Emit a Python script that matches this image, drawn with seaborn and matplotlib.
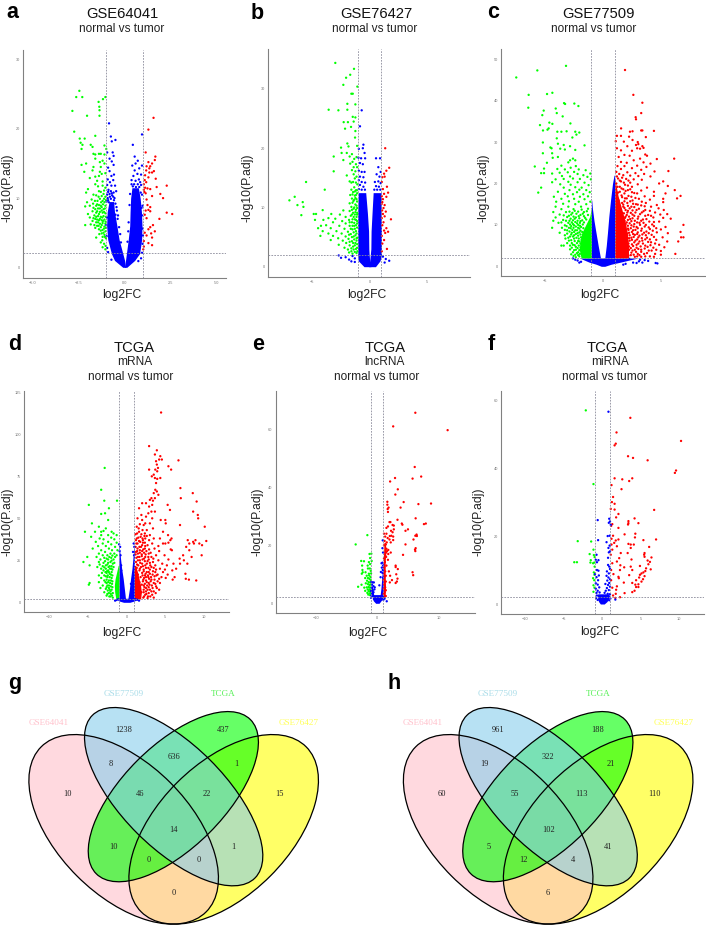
import matplotlib
matplotlib.use("Agg")
import matplotlib.pyplot as plt
from matplotlib.patches import Ellipse
import numpy as np
import pandas as pd
import seaborn as sns

W, H = 706, 926

# ---------------------------------------------------------------------
# Volcano data: (log2FC, -log10(P.adj))
# ---------------------------------------------------------------------
a_green = [(-2.47,25.5),(-2.64,24.6),(-2.31,24.6),(-1.05,24.6),(-1.18,24.3),(-1.42,23.9),(-1.38,23.2),(-2.85,22.6),(-1.37,22.7),(-1.37,21.9),(-2.05,21.9),(-2.75,19.6),(-1.6,19),(-2.45,18.6),(-2.18,18.6),(-2.4,18),(-2.3,17.7),(-1.85,17.7),(-1.75,17.4),(-2.35,17.1),(-1.1,17.6),(-1.0,17.1),(-1.7,16.4),(-1.6,16.3),(-1.4,16.4),(-1.3,16.4),(-1.1,16.3),(-1.6,15.7),(-1.2,15.4),(-1.35,15.2),(-1.1,15),(-2.1,15),(-2.35,14.8),(-1.7,14.5),(-1.3,14.5),(-1.75,14),(-2.2,13.8),(-1.35,13.8),(-1.25,13.5),(-1.4,13.2),(-1.05,13.6),(-1.6,13.1),(-1.9,12.9),(-1.5,12.5),(-1.2,12.4),(-1.6,12),(-1.45,11.7),(-2,11.3),(-1.2,11.8),(-1.05,11.5),(-1.4,11),(-1.3,10.9),(-2.1,10.8),(-1.7,10.5),(-1.55,10.4),(-1.15,10.6),(-1.05,10.2),(-1.8,9.8),(-1.35,9.9),(-1.2,9.6),(-1.1,9.4),(-2.05,9.4),(-1.5,9.1),(-1.4,9.0),(-1.3,8.9),(-1.25,8.7),(-2.15,8.8),(-1.9,8.9),(-1.7,8.6),(-1.6,8.4),(-1.45,8.5),(-1.15,8.4),(-1.05,8.9),(-1.75,8.1),(-1.55,7.9),(-1.35,8.0),(-1.2,7.9),(-1.05,7.8),(-2.0,7.7),(-1.65,7.5),(-1.45,7.4),(-1.3,7.3),(-1.15,7.4),(-1.9,7.2),(-1.6,7),(-1.5,6.9),(-1.4,6.8),(-1.25,6.8),(-1.1,6.9),(-1.75,6.7),(-1.55,6.5),(-1.35,6.3),(-1.2,6.4),(-1.05,6.3),(-2.15,6.1),(-1.85,6.2),(-1.5,6),(-1.3,5.8),(-1.1,5.9),(-1.4,5.5),(-1.2,5.4),(-1.05,5.2),(-1.25,4.9),(-1.1,4.7),(-1.55,4.3),(-1.2,4.4),(-1.02,4.2),(-1.3,3.6),(-1.12,3.4),(-1.04,3.1),(-1.2,2.9),(-1.05,2.6)]
a_green_more = [(-1.12,11.1),(-1.25,10.3),(-1.42,10.2),(-1.62,9.6),(-1.12,9.9),(-1.28,9.4),(-1.02,9.7),(-1.48,9.6),(-1.72,9.2),(-1.18,9.1),(-1.55,8.9),(-1.35,8.5),(-1.08,8.5),(-1.25,8.2),(-1.5,8.1),(-1.12,8),(-1.4,7.7),(-1.02,7.3),(-1.22,7.2),(-1.55,7.3),(-1.35,7),(-1.7,7.1),(-1.18,6.7),(-1.45,6.5),(-1.04,6.6),(-1.25,6.1),(-1.65,6.1),(-1.42,6),(-1.12,5.6),(-1.6,5.7),(-1.3,5.3),(-1.02,5.7),(-1.15,5),(-1.38,4.8),(-1.08,4.4),(-1.22,3.9)]
a_red = [(1.58,21.6),(1.3,19.9),(1.15,16.6),(1.68,16),(1.65,15.5),(1.3,15.2),(1.5,15),(1.4,14.6),(1.2,14.6),(1.35,14.3),(1.18,14),(1.6,13.9),(1.35,13.7),(1.5,13.7),(1.12,13.3),(1.3,13),(1.7,12.8),(1.1,12.6),(1.18,12.3),(1.05,12),(2.3,11.8),(1.75,11.6),(1.12,11.5),(1.25,11.4),(1.05,11.2),(1.4,11.3),(1.08,10.9),(1.15,10.7),(1.95,10.6),(1.5,10.3),(2.1,10),(1.2,9.8),(1.25,9),(1.4,8.7),(1.3,8.3),(1.15,8.2),(1.4,8.1),(2.3,7.9),(2.6,7.7),(1.1,7.6),(1.2,7.1),(1.9,7),(1.55,6.1),(1.4,5.8),(1.3,5.5),(1.65,5.2),(1.1,5),(1.45,4.9),(1.2,4.6),(1.5,4.3),(1.05,3.8),(1.3,3.5),(1.5,3.2),(1.05,3),(1.02,2.6)]
a_blue = [(-0.85,20.8),(-0.75,18.9),(-0.7,18.2),(-0.5,18.4),(0.95,19.2),(0.45,17.7),(-0.95,16.6),(-0.65,16.6),(-0.6,16.1),(-0.82,15.7),(0.55,16),(0.72,15.4),(-0.7,15.3),(-0.6,14.8),(-0.9,14.4),(0.6,15),(0.42,14.7),(0.95,14.7),(0.8,14.3),(0.55,14),(-0.82,13.9),(-0.72,13.2),(-0.58,13.4),(0.7,13.5),(0.9,13.4),(0.48,13.2),(-0.92,12.7),(-0.8,12.3),(-0.62,12.6),(0.6,12.5),(0.78,12.7),(-0.95,11.9),(-0.72,11.8),(-0.52,11.8),(0.38,12),(0.9,11.9),(-0.88,11.2),(-0.75,11),(-0.6,10.8),(-0.46,11),(-0.95,10.5),(-0.8,10.2),(-0.68,10.4),(-0.55,10),(0.95,10.5),(-0.98,9.5),(-0.86,9.4),(0.98,8.9),(-0.42,8.2),(-0.38,7),(0.22,6.5),(0.95,7.5),(-0.96,7.2),(0.98,5.6),(-0.98,4.5),(0.98,3.4),(-0.95,2.8),(0.95,2.1),(-0.9,2.2),(0.9,1.3),(-0.72,1.1),(0.75,0.9)]
a_blue_more = [(-0.9,10.9),(-0.7,10.7),(-0.82,10.6),(-0.62,10.2),(-0.92,10),(-0.75,9.9),(-0.58,9.7),(-0.5,9.2),(-0.9,9.7),(-0.44,8.7),(-0.5,7.6),(-0.36,7.5),(-0.3,5.8),(-0.24,4.8),(-0.2,3.6),(0.38,12.6),(0.52,12),(0.72,12),(0.85,12.3),(0.45,11.7),(0.8,11.6),(0.62,11.6),(0.3,10.6),(0.27,9),(0.88,10.8),(0.2,5.2),(0.16,3.7),(1,4.6),(0.93,8.6),(-1,6.1)]

b_green = [(-3,34.4),(-1.37,33.4),(-1.7,32.4),(-2.06,31.9),(-2.3,30.7),(-1.08,30.4),(-1.6,29.2),(-1.48,29.2),(-1.95,27.5),(-1.25,27.4),(-3.58,26.5),(-2.73,26.4),(-1.95,26.5),(-1.48,25.3),(-1.25,25.2),(-2.27,24.4),(-1.9,24.4),(-1.4,24.5),(-1.63,23.6),(-2.15,23.3),(-1.25,22.9),(-1.28,21.8),(-1.95,20.8),(-2.5,20.1),(-1.85,20.3),(-1.1,20.4),(-3.14,18.6),(-2.45,19.2),(-2,19.2),(-1.55,19),(-1.75,18.6),(-1.35,18.2),(-2.3,18),(-1.15,18.5),(-1.5,17.7),(-1.7,17.4),(-1.2,17.3),(-1.4,16.8),(-1.1,16.8),(-3.14,16.1),(-1.55,16.3),(-1.25,16.1),(-1.4,15.6),(-2,15.4),(-1.15,15.2),(-1.3,14.9),(-5.55,14.3),(-1.75,14.4),(-1.45,14.3),(-1.6,14.2),(-1.2,14.2),(-1.08,13.9),(-1.35,13.4),(-3.92,13),(-1.6,13),(-1.2,12.9),(-1.45,12.6),(-1.1,12.4),(-1.7,12.1),(-1.3,12),(-7,11.2),(-6.54,11.8),(-1.55,11.5),(-1.15,11.4),(-1.42,11.1),(-5.84,10.9),(-6.3,10.4),(-1.75,10.7),(-1.25,10.5),(-5.78,10.1),(-1.6,10.1),(-1.1,9.9),(-1.4,9.8),(-4.1,9.55),(-2.3,9.5),(-1.75,9.4),(-1.25,9.2),(-4.88,8.9),(-4.68,8.9),(-3.35,8.9),(-2.6,8.8),(-1.55,8.8),(-1.1,8.8),(-5.96,8.7),(-2.1,8.4),(-1.4,8.4),(-3.6,8.2),(-3,8.1),(-4.77,7.9),(-4.04,7.9),(-1.8,7.9),(-1.2,7.9),(-2.4,7.7),(-3.2,7.5),(-1.55,7.5),(-2.1,7.3),(-1.1,7.3),(-3.8,7),(-4.25,6.9),(-2.65,6.9),(-1.75,6.9),(-1.35,6.9),(-4.5,6.5),(-3.4,6.5),(-2.2,6.4),(-1.5,6.3),(-4.1,6),(-2.9,6),(-1.9,5.9),(-1.2,6),(-3.6,5.6),(-2.45,5.6),(-1.65,5.5),(-4.3,5.2),(-3.2,5.2),(-2.1,5.1),(-1.4,5.1),(-2.75,4.8),(-1.85,4.7),(-1.15,4.8),(-3.4,4.5),(-2.35,4.4),(-1.55,4.3),(-2.05,4),(-1.25,4),(-2.7,3.7),(-1.75,3.6),(-1.45,3.4),(-2.2,3.2),(-1.1,3.2),(-1.9,2.9),(-1.6,2.6),(-1.3,2.5),(-1.15,2.3)]
b_green_more = [(-1.12,12.9),(-1.3,12.7),(-1.2,12.1),(-1.5,12.2),(-1.25,11.6),(-1.1,11),(-1.35,11.3),(-1.5,10.8),(-1.15,10.3),(-1.35,10),(-1.55,9.6),(-1.2,9.6),(-1.1,9.1),(-1.45,9.1),(-1.3,8.8),(-1.65,8.6),(-1.15,8.4),(-1.3,8),(-1.5,8),(-1.1,7.7),(-1.75,7.5),(-1.35,7.4),(-1.2,7),(-1.5,6.9),(-1.1,6.6),(-1.3,6.4),(-1.65,6.4),(-1.15,5.6),(-1.4,5.8),(-1.8,5.4),(-1.25,5.3),(-1.55,5),(-1.1,4.9),(-1.35,4.6),(-1.75,4.2),(-1.15,4.4),(-1.45,4),(-1.1,3.8),(-1.3,3.6),(-1.6,3.1),(-1.2,3),(-1.4,2.9),(-1.08,2.6),(-1.8,2.4),(-1.5,2.2)]
b_red = [(1.35,20),(1.7,16.7),(1.45,16.2),(1.25,15.7),(1.3,15.2),(1.1,15.1),(1.05,14.3),(1.5,13.5),(1.15,13.1),(1.6,12.5),(1.25,12.3),(1.05,11.9),(1.45,11.8),(1.15,11.4),(1.1,10.9),(1.04,10.6),(1.3,10.4),(1.2,9.9),(1.08,9.5),(1.4,9.3),(1.15,8.9),(1.3,8.5),(1.05,8.2),(1.85,8),(1.2,7.5),(1.1,7),(1.45,6.5),(1.25,6.1),(1.6,5.9),(1.35,5.7),(1.05,5.2),(1.25,4.5),(1.1,3.9),(1.5,3),(1.05,2.6)]
b_blue = [(-0.7,26.4),(-0.85,23.7),(-0.55,20.6),(-0.6,20),(-0.95,19.9),(-0.45,19.2),(-0.98,18.4),(-0.75,18.3),(-0.4,18.3),(0.55,18.3),(0.9,18.3),(-0.85,17.5),(-0.6,17.3),(0.75,16.8),(-0.95,16.2),(-0.7,16),(-0.45,16),(0.95,16),(0.6,15.6),(-0.85,15.2),(-0.55,15.1),(0.85,15.2),(-0.95,14.6),(-0.7,14.3),(-0.4,14.2),(0.45,14.3),(0.75,14.4),(0.95,14.1),(-0.85,13.8),(-0.55,13.5),(0.55,13.6),(0.8,13.5),(-0.95,13.1),(-0.7,13),(-0.42,13),(0.4,13),(0.65,13),(0.92,13),(-1.5,1.8),(-2.1,1.6),(-2.5,1.5),(-1.8,1.2),(-1.3,1.4),(-2.7,1.9),(1.4,1.3),(1.15,1.7),(1.7,1),(1.3,0.7),(-1.3,0.8),(-1.6,0.9)]

c_green = [(-7.5,45.6),(-5.68,47.3),(-3.2,48.4),(-6.43,41.4),(-4.84,41.6),(-4.38,41.9),(-6.46,38.3),(-5.13,37.6),(-5.25,36.5),(-3.37,39.4),(-3.28,39.2),(-2.48,39.3),(-2.13,38.7),(-4.09,38.1),(-4,37),(-3.49,36.2),(-4.64,34.7),(-4.38,34.4),(-2.82,34.5),(-5.45,34.1),(-5.19,32.8),(-4.7,33.3),(-4.8,33),(-3.95,32.5),(-3.6,32.5),(-3.15,32.6),(-2.4,32.5),(-2.05,32.3),(-2.3,31.8),(-4,30.9),(-2.65,31.1),(-5.2,29.9),(-3.9,29.6),(-3.4,29.3),(-2.85,29),(-1.6,29.2),(-4.55,28.7),(-4.45,28.5),(-3.7,28.4),(-3.3,28.2),(-2.4,28.1),(-5.2,27.3),(-4.4,27.3),(-4.35,26.2),(-3.9,26.4),(-2.6,26),(-2.4,25.6),(-4.85,25),(-2.85,25.6),(-3,25.1),(-5.9,24.1),(-3.6,24.3),(-2.35,24.2),(-5.1,23.6),(-3.95,23.5),(-3.3,23.4),(-2.8,23.8),(-2.1,23.4),(-1.5,23.2),(-5.35,22.5),(-5.1,22.5),(-4.4,22.4),(-3.75,22.6),(-3.05,22.7),(-2.5,22.8),(-2.2,22.3),(-1.1,22.4),(-1.7,22),(-3.55,21.8),(-2.85,21.7),(-1.35,21.6),(-4.1,21),(-3.4,21.1),(-2.6,21.2),(-2,21.1),(-1.05,21),(-4.4,20.3),(-3,20.4),(-2.2,20.3),(-1.6,20.2),(-3.7,19.8),(-2.8,19.7),(-1.25,19.6),(-5.35,19),(-3.4,19),(-2.4,19.1),(-1.85,19),(-2.05,18.5),(-2.9,18.4),(-1.45,18.4),(-5.6,17.8),(-3.9,18),(-2.25,17.9),(-1.15,17.9),(-3.3,17.5),(-2.6,17.4),(-1.7,17.4),(-4.25,16.8),(-3.05,16.9),(-2,16.8),(-1.3,16.9),(-3.6,16.3),(-2.5,16.3),(-1.6,16.2),(-4.05,15.6),(-2.95,15.7),(-2.1,15.6),(-1.1,15.6),(-3.45,15.1),(-2.4,15),(-1.45,15),(-4.1,14.4),(-3,14.4),(-1.9,14.4),(-3.6,13.8),(-2.55,13.8),(-1.3,13.9),(-4.3,13.1),(-3.2,13.1),(-2.15,13.2),(-1.65,13.1),(-3.75,12.5),(-2.75,12.5),(-1.95,12.4),(-4.1,11.8),(-3.1,11.9),(-2.35,11.8),(-1.55,11.7),(-4.3,11),(-3.45,11.2),(-2.6,11.1),(-1.8,11.1),(-3.85,10.5),(-3,10.5),(-2.25,10.4),(-3.3,9.9),(-2.5,9.9),(-2,9.8),(-4.4,9.3),(-3.55,9.3),(-2.8,9.2),(-2.15,9.3),(-3.1,8.7),(-2.4,8.7),(-3.75,8.1),(-2.7,8.1),(-2.2,8),(-3.3,7.5),(-2.5,7.5),(-3,6.9),(-2.3,6.9),(-2.75,6.3),(-2.15,6.1),(-3.6,5),(-3.4,5),(-2.6,5.2),(-2.35,4.7),(-2.5,3.9),(-2.25,3.2),(-2.55,2.5),(-2.35,2.2),(-2.15,2.7)]
c_green_more = [(-2.9,13.2),(-2.45,13.4),(-1.85,13.7),(-1.4,13.3),(-2.65,12.9),(-2.3,12.7),(-1.75,12.7),(-1.3,12.4),(-3.4,12.3),(-2.95,12.2),(-2.55,12),(-2.1,12.1),(-1.65,12.1),(-2.8,11.5),(-2.45,11.5),(-2.05,11.6),(-1.45,11.3),(-3.2,11),(-2.9,11),(-2.2,11),(-1.95,10.9),(-3.6,10.6),(-2.7,10.6),(-2.4,10.7),(-2,10.5),(-1.65,10.6),(-2.85,10.1),(-2.6,10.2),(-2.15,10),(-1.75,10.1),(-3.15,9.7),(-2.75,9.7),(-2.35,9.6),(-1.9,9.5),(-2.95,9.3),(-2.55,9.3),(-2.05,9.1),(-1.7,9.2),(-3.3,8.8),(-2.65,8.8),(-2.25,8.7),(-1.95,8.6),(-2.9,8.4),(-2.5,8.3),(-2.05,8.2),(-1.8,8.3),(-3.1,7.9),(-2.75,7.7),(-2.35,7.8),(-1.95,7.7),(-2.6,7.2),(-2.15,7.4),(-2.85,7.2),(-1.9,7),(-3.25,6.7),(-2.5,6.7),(-2.1,6.7),(-1.85,6.4),(-2.95,6.2),(-2.45,6.1),(-2.05,6),(-3.1,5.6),(-2.7,5.6),(-2.25,5.6),(-1.95,5.5),(-2.85,5),(-2.45,5.1),(-2.1,5),(-2.7,4.5),(-2.2,4.4),(-1.95,4.5),(-2.85,4.1),(-2.35,4),(-2.05,3.9),(-2.6,3.4),(-2.15,3.4),(-2.75,2.9),(-2,3),(-2.4,2.8),(-2.05,2.4)]
c_red = [(1.9,47.4),(2.62,41.4),(3.4,39.5),(3.3,37),(2.82,36),(2.85,35.5),(1.56,33.3),(3.3,32.8),(3.4,32.8),(4.4,32.7),(2.33,32.5),(2.55,32.6),(1.2,31.5),(1.55,31.5),(2.25,31.3),(3.7,31.2),(2.55,30.5),(1.1,30.2),(1.8,30.1),(3,30),(2.85,29.3),(3.05,29.5),(2.1,29),(3.4,29),(3.5,28.6),(1.2,28.5),(2.95,28.5),(3.2,28.4),(1.55,28),(2.5,27.9),(3.65,27),(1.85,26.9),(2.3,26.7),(3.8,26.7),(1.35,26.4),(4.65,25.9),(6.15,26),(3.2,26),(2.65,25.6),(1.55,25.2),(3.5,25.1),(2.05,25),(4.1,24.8),(1.25,24.2),(1.85,24.2),(2.95,24.3),(3.75,24),(2.5,23.7),(1.55,23.5),(3.3,23.3),(5.65,23),(4.45,22.9),(2.1,22.7),(1.15,22.8),(2.8,22.5),(3.55,22.3),(1.75,22),(2.35,21.9),(3.05,21.8),(4.1,21.7),(1.3,21.2),(2,21.1),(2.65,21),(3.35,20.9),(5.2,20.5),(1.55,20.5),(2.35,20.2),(4.85,20),(1.15,20),(1.9,19.7),(3,19.8),(5.6,19.4),(1.45,19.2),(2.5,19.2),(3.8,19),(1.75,18.6),(2.15,18.4),(3.3,18.3),(6.2,18.4),(4.4,18),(1.3,17.8),(2.7,17.7),(5.4,17.6),(6.7,17),(4.4,17),(1.6,17.1),(2.2,17),(3.6,16.9),(6.4,16.4),(5.2,16.3),(1.9,16.4),(3.1,16.3),(4.05,16.1),(2.55,15.9),(1.35,15.9),(5.2,15.5),(2.1,15.3),(3.7,15.3),(2.85,15),(1.75,14.9),(4.65,14.8),(3.3,14.7),(2.45,14.4),(4.15,14.4),(4.8,14),(1.85,14.1),(5.25,13.6),(3.65,13.6),(2.9,13.6),(3.35,13),(2.1,13),(4.5,13),(4.95,12.5),(5.55,12.6),(2.55,12.5),(3.9,12.4),(3.05,12),(1.95,12),(4.35,11.8),(5.2,11.7),(5.85,11.5),(2.35,11.4),(3.45,11.3),(2.75,11),(4,10.8),(4.85,10.8),(2.05,10.6),(3.15,10.5),(6.95,10),(3.7,10),(2.45,9.9),(4.4,9.7),(5.4,9.5),(2.9,9.5),(3.35,9.1),(2.15,9.1),(4.05,9),(5,8.9),(2.6,8.7),(6.7,8.3),(3.75,8.4),(3,8.2),(4.65,8.2),(2.25,8.1),(5.6,8),(3.4,7.7),(2.75,7.6),(4.2,7.6),(6.95,7),(6.75,7),(5.15,7),(2,7.3),(3.05,7),(2.45,6.9),(3.8,6.9),(6.5,6),(4.6,6.4),(2.8,6.2),(3.4,6.2),(5.55,6),(2.1,6),(4.15,5.8),(3.05,5.5),(2.5,5.3),(4.85,5.2),(3.65,5),(5.3,4.6),(2.25,4.8),(2.9,4.5),(4.35,4.5),(3.3,4),(2.55,3.8),(3.95,3.8),(5,3.7),(2.1,3.5),(3,3),(6.25,3),(3.55,3),(4.5,3),(2.4,2.7),(4.05,2.4),(2.75,2.3),(3.3,2.3),(5,2.8)]
c_red_more = [(1.4,22.3),(1.2,21.7),(1.65,21.4),(1.45,20.7),(2.2,20.7),(1.8,20.2),(1.25,19.2),(2.15,19.5),(1.6,18.8),(2.35,18.6),(1.95,18.2),(1.45,18),(2.5,17.9),(1.85,17.6),(2.95,17.6),(1.65,16.7),(2.45,16.8),(2.05,16.4),(2.8,16.5),(1.85,15.7),(2.35,15.7),(3.35,15.6),(1.65,15.3),(2.6,15.1),(3,14.9),(2.15,14.6),(1.75,14.4),(3.6,14.5),(2.7,14.3),(2.3,14),(3.1,13.9),(1.95,13.6),(2.55,13.5),(3.5,13.3),(2.15,13.4),(4.05,13.4),(2.8,13),(2.4,12.9),(1.8,12.8),(3.2,12.6),(2.05,12.4),(2.7,12.2),(3.65,12.2),(2.25,12),(4.15,12.2),(1.9,11.7),(3,11.5),(2.55,11.6),(3.75,11.4),(2.15,11.2),(3.3,11),(1.85,11),(2.45,10.9),(2.95,10.6),(4.4,10.7),(3.5,10.5),(2.3,10.4),(1.95,10.2),(2.7,10.2),(3.2,10),(4.25,10.1),(2.15,9.8),(2.65,9.6),(3.6,9.6),(1.9,9.4),(3,9.2),(2.4,9.2),(4.6,9.2),(3.95,9.4),(2.2,8.8),(2.8,8.8),(3.3,8.6),(1.95,8.5),(4.3,8.6),(2.5,8.3),(3.55,8.1),(2.1,7.9),(2.95,7.8),(2.6,7.8),(3.95,8),(2.3,7.5),(3.7,7.5),(3.15,7.4),(1.95,7.1),(2.65,7.1),(4.4,7.1),(2.25,6.8),(3.35,6.8),(2.95,6.5),(3.65,6.5),(2.5,6.4),(4.05,6.5),(2.3,6.2),(3.15,6),(2.7,5.8),(3.9,5.9),(4.5,5.5),(2.2,5.5),(3.45,5.5),(2.9,5.2),(4.1,5.1),(2.6,4.9),(3.25,4.8),(3.85,4.7),(2.4,4.4),(3.05,4.2),(4.6,4),(3.6,4.3),(2.75,4),(2.25,4),(4.2,3.8),(3.3,3.5),(2.85,3.5),(2.45,3.3),(3.8,3.2),(3.15,2.7),(2.65,2.8),(3.65,2.4),(2.2,2.6),(4.4,2.3),(2.95,2.4)]
c_blue = [(4.55,0.8),(4.7,0.7),(3.6,1.5),(3.9,1.3),(3.2,1.6),(3.4,0.9),(2.9,0.8),(2.6,0.9),(3.1,1.2),(-2.4,1.6),(-2.6,1.9),(-2.2,1.4),(-1.9,1.1),(-2.05,0.9),(2.3,1.8),(1.95,0.6),(1.75,0.4)]

d_green = [(-2.85,80),(-3.3,67),(-2.9,60.5),(-1.25,60.5),(-4.9,58),(-2.3,56),(-2.8,53),(-3.3,52.6),(-2.4,49),(-4.5,47),(-3.6,45),(-2.7,44),(-5.4,42),(-1.95,42),(-4.1,42),(-3.3,42),(-3,42.5),(-1.7,41),(-3.3,40),(-2.4,40),(-1.3,40),(-4.6,39),(-2,38.5),(-3.5,38),(-3,37.5),(-1.6,37.5),(-4,36),(-2.4,36),(-1.3,35.5),(-3.1,35),(-2,34.5),(-3.7,33.5),(-2.7,33.5),(-1.5,33),(-4.4,32),(-2.3,32),(-3.3,31),(-1.9,31),(-1.2,31),(-2.8,30),(-3.6,29),(-2.1,29),(-1.6,29),(-3.1,28),(-2.5,28),(-1.3,28),(-3.9,27),(-2.9,26.5),(-2,26.5),(-3.4,25.5),(-2.4,25.5),(-1.7,25.5),(-2.8,24.5),(-2.1,24),(-5.1,27),(-3,23.5),(-1.6,23.5),(-4.8,22),(-3.5,22.5),(-2.5,22.5),(-3.1,21.5),(-2.2,21.5),(-3.8,21),(-3.3,20),(-2.7,20),(-2,20),(-5.6,24),(-3.6,24),(-3,19),(-2.4,19),(-3.2,17.5),(-2.6,17.5),(-2.2,17),(-3.6,16),(-2.9,16),(-3.3,14.5),(-2.5,15),(-2.9,13),(-2.3,13),(-3.6,12),(-2.6,11.5),(-4.8,11.5),(-4.9,10.5),(-3.1,10),(-2.3,10),(-3.4,8.5),(-2.7,8),(-2.2,7.5),(-2.9,6),(-2.3,5.5),(-2.6,4),(-2.1,3.5)]
d_green_more = [(-1.85,27.8),(-2.25,27),(-1.5,27),(-2.6,26),(-1.95,24.8),(-2.4,23.5),(-1.8,23),(-2.7,22),(-1.95,21.5),(-2.35,21),(-1.7,21),(-2.9,20.8),(-2.15,20),(-1.85,19.5),(-2.55,18.5),(-1.95,18),(-2.3,18),(-2.75,18),(-2.05,16.5),(-1.85,16),(-2.45,16),(-2.7,15.5),(-2.2,15),(-1.95,14.5),(-2.6,13.5),(-2.05,13),(-1.85,12.5),(-2.4,12),(-2.75,12),(-2.15,11.5),(-1.9,11),(-2.5,10),(-2.05,9.5),(-1.85,9),(-2.6,9),(-2.3,8.5),(-1.95,7.5),(-2.45,7),(-2.1,6.5),(-1.8,5.5),(-2.05,5),(-2.5,5),(-1.9,4),(-2.25,3.5),(-1.8,2.8)]
d_red = [(4.45,113),(2.9,93),(3.9,90.5),(3.65,88),(4.35,87),(4.2,85),(4.55,85),(6.7,84.5),(3.8,84),(5.4,81),(5.75,79),(3.9,82),(4.05,80),(2.9,79),(3.7,79),(3.95,78),(3.5,76),(4.35,74),(3.65,74),(3.25,75),(3.95,73.5),(3.8,71),(6.95,68),(3.7,67),(3.9,66),(3.5,65),(4.1,64),(8.55,65),(3.2,62),(3.65,62),(3,61),(7,62),(3.4,60.5),(9.05,60),(3.3,58),(2.5,59),(2,59),(2.9,57),(5.3,58),(1.6,56),(3.2,54),(3.65,54),(2.8,53),(5.6,55),(1.9,52),(8.6,54),(2.5,51),(3.3,50),(1.4,50),(9.2,52),(2,49),(5,49),(9.25,50),(4.4,49),(3,47),(2.4,47),(1.7,46.5),(5.05,47),(2.2,46),(1.3,45),(3.4,44),(6.9,46),(1.55,44),(2.6,43),(4.7,42),(10.1,45),(2.35,41),(1.9,40.5),(3,40),(1.15,40.5),(5.35,40),(2.3,39.5),(1.5,38.5),(2.4,38),(3.5,38),(4.3,38),(5.8,38),(1.2,37),(2.1,37),(2.9,37),(5.65,37),(1.75,36),(2.35,35.5),(5.4,35.5),(1.4,35),(3.3,35),(7.9,37),(8.9,37),(8.6,36),(10.3,36.5),(4.7,35),(5,35),(2,34),(2.7,34),(8.1,35),(4.1,33.5),(8.7,35),(9.4,35),(1.15,33),(1.65,33),(3.6,32),(7.7,33),(9.75,34),(2.35,32),(5.7,31.5),(5.85,31),(2.9,31.5),(1.35,30.5),(2,30.5),(4.2,30.5),(1.7,29.5),(3.1,29.5),(7.3,28),(8.1,31),(2.45,28.5),(1.15,28.5),(3.8,28),(4.9,28),(1.95,27.5),(9.7,28),(2.8,27),(1.45,27),(7.4,25),(6.85,26),(3.45,26),(2.25,26),(8.4,27),(5.4,25.5),(1.7,25),(4.1,25),(6.9,23),(2.7,24.5),(1.2,24),(3,23.5),(7.85,23),(2,23),(4.6,23),(3.7,22),(1.5,22),(2.4,22),(5.2,22),(1.85,21),(3.2,21),(6.05,23),(2.8,20.5),(1.3,20.5),(4.3,20),(5.9,19),(4.95,19.5),(3.8,19.5),(2.2,19.5),(6.4,20),(1.65,19),(3.4,18.5),(2.6,18),(1.15,18),(4.7,18),(2,17.5),(7.6,17),(3,17),(5.3,16.5),(4,16.5),(1.45,16.5),(2.35,16),(3.6,15.5),(1.8,15),(2.8,15),(4.5,15),(6.2,15),(5.05,14.5),(7.65,14),(3.2,13.5),(2.15,13.5),(1.35,13.5),(1.65,12),(4,12.5),(2.6,12),(8.05,13.5),(3.5,11.5),(5.95,13.5),(9,13),(1.95,10.5),(2.95,10.5),(3.8,9.5),(2.3,9),(1.35,8.5),(4.2,7.5),(2.7,7.5),(3.2,6.5),(1.9,6),(3.75,5.5),(2.4,4.5),(1.55,4),(3.05,3.5),(2.7,2.5)]
d_red_more = [(1.6,42),(2.05,43),(1.35,41),(1.8,39),(2.6,39.5),(1.3,38),(2.05,38),(1.6,36.5),(1.25,35),(2.1,35.5),(1.85,33),(2.4,33.5),(1.4,32),(2.15,31.5),(1.7,31),(2.55,30.5),(1.2,30),(2.25,29.5),(1.45,29),(2.85,29),(1.95,28.5),(2.4,27),(1.65,27),(3.2,27),(1.25,26.5),(2.05,25.5),(2.85,25.5),(1.45,25),(2.35,24.5),(3.4,24),(1.75,23.5),(2.6,23),(1.35,22.5),(3.05,22),(2.1,21.5),(3.5,20.5),(2.5,20.5),(1.7,20),(3,19.5),(2.2,18.5),(2.85,18),(3.7,18),(2.45,17),(3.35,16.5),(2.05,16),(2.75,16),(3.85,16),(2.5,15),(3.15,15),(2.25,14.5),(4.2,14),(2.9,14),(3.6,13.5),(2.5,13),(2.1,12.5),(3.1,12.5),(4.3,11.5),(2.85,11.5),(2.35,11),(3.7,11),(2.65,10),(3.25,10),(2.2,10),(3.9,8.5),(2.85,9),(2.5,8.5),(3.35,8.5),(2.2,7.5),(3,7.5),(2.5,6.5),(3.5,6.5),(2.2,6),(2.85,5.5),(2.55,5),(3.3,4.5),(2.25,3.5),(2.75,3.5),(2.15,2.8),(3.5,2.8)]
d_blue = [(-0.98,34.5),(-0.85,33),(-0.92,30.5),(-0.8,28),(0.9,35),(0.98,33),(0.82,30),(0.95,28),(-0.72,22),(-0.7,19),(0.55,11),(-1.3,1.4),(-1.5,1),(1.35,1.5),(1.6,1),(-1.1,1.8),(1.1,1.9)]

e_green = [(-1.6,23.5),(-3.5,20.3),(-1.25,17),(-0.95,17.1),(-1.15,15.6),(-1.35,14.2),(-2.6,14.6),(-0.9,14.6),(-2.15,14.5),(-1.15,13.5),(-1.55,13),(-2.45,13),(-2.4,11.5),(-1.5,12),(-1.2,12),(-1.05,11.2),(-2.35,10.7),(-1.9,10.7),(-1.35,10.2),(-2.5,10.2),(-1,10.3),(-1.7,9.5),(-1.3,9.6),(-1.1,9.1),(-1.5,8.7),(-1.95,8.7),(-1.25,8.4),(-1.05,8),(-1.65,7.8),(-1.4,7.3),(-1.15,7.2),(-2.55,6.4),(-1.85,6.9),(-1.5,6.6),(-1.25,6.3),(-1.05,6.5),(-3.1,5.7),(-2.1,5.4),(-1.7,5.5),(-1.4,5.6),(-1.15,5.5),(-1.55,4.8),(-1.25,4.8),(-1.05,4.6),(-1.95,4.3),(-1.4,4.2),(-1.15,4.1),(-1.6,3.6),(-1.25,3.4),(-1.05,3.5),(-1.45,3),(-1.15,2.8)]
e_red = [(6.2,65.7),(2.6,61),(11.45,59.7),(6.1,47),(7.15,43.7),(5.75,43),(2.9,43.2),(2.1,42),(3.35,39.3),(2.95,37.5),(4.3,34.9),(1.65,35),(6.7,34.2),(8.75,34.4),(1.65,34),(1.85,33),(1.7,32.5),(3.8,33),(1.75,31.5),(6.25,29.3),(3.3,28.8),(2,28),(2.15,28),(4,27.5),(4.1,27.1),(7.6,27.3),(7.9,27.5),(2.5,27),(2.7,26.8),(1.75,26.5),(1.5,26),(5,25.5),(2.7,25.5),(4.6,25),(2.25,25),(2.5,24.5),(1.1,24),(1.5,24),(6.4,23.7),(6.2,23.3),(6.45,23.2),(2.05,23.2),(2.3,23.3),(1.3,23),(2.6,23),(5.9,22),(1.7,22.5),(2,22),(2.6,21.8),(1.2,21.5),(1.55,21),(2.2,21),(4.6,20.3),(1.4,20.3),(1.1,20),(6.25,19),(6.15,18.5),(1.5,18.8),(1.6,18),(1.8,18.4),(1.45,17.5),(2.2,17.5),(6.2,18),(4.2,16.7),(1.8,17),(1.3,16.5),(1.45,16),(1.1,15.5),(1.75,15),(1.25,14.2),(3,13),(1.5,13),(3,12.5),(1.15,12.5),(3.35,11.8),(5.75,10.7),(1.3,11),(1.9,11),(3.1,10),(1.1,10.2),(5.85,9.7),(1.4,9.5),(2.1,9.5),(1.15,9),(3.3,8.5),(2.4,8),(1.05,8),(1.4,7.5),(3.2,7.5),(2.05,7.2),(3,7),(1.1,6.6),(1.3,5.5),(1.05,5),(1.4,4.5),(1.2,3.8),(1.05,3.2),(1.4,2.5),(1.1,2.2)]
e_blue = [(0.9,21.7),(0.85,19),(0.95,17.5),(0.85,14),(0.7,13.8),(0.95,13),(0.75,12.3),(0.9,11.5),(0.6,10.8),(0.85,10.5),(0.55,9),(0.95,8.8),(0.35,6.2),(-0.4,5.5),(-0.75,7.2),(-0.95,7.4),(-0.55,7.2),(-0.85,6.4),(-0.6,5.9),(-0.9,5.3),(-0.45,4.8),(-0.75,4.5),(-1,4.2),(-0.6,3.8),(-0.85,3.5),(-0.95,2.7),(-0.75,2.5),(0.9,2.4),(1.55,0.7),(1,1.2),(-1.0,1.9),(1.2,1.6)]

f_green = [(-2.15,57),(-1.15,35.3),(-3.2,18.5),(-1.45,18.4),(-1.15,16),(-1.65,14.7),(-1.1,14.4),(-1.0,13.8),(-1.5,12.9),(-1.05,12.2),(-3.65,12.3),(-3.3,12.3),(-1.55,12.2),(-1.2,12),(-1,11),(-1.1,9.3),(-1.02,8.6),(-1.2,7.6),(-1.05,7),(-1.15,5.5),(-1.02,4.8),(-1.15,3.6)]
f_red = [(3.65,54.8),(1.85,50.5),(10.25,48),(1.75,47.2),(1.6,46.7),(3.35,43.5),(4,43),(5.9,42.3),(9.6,39.3),(9.45,38.6),(1.6,37),(2.6,36.7),(3.9,37),(3.5,36.2),(1.2,35),(2.5,33.8),(1.4,31.5),(1.25,30),(1.6,29.5),(1.1,28),(1.6,27.8),(6.75,27.7),(2.1,26.5),(1.8,25.5),(4.2,25.2),(3.4,24.4),(3.4,23.8),(4.7,23.8),(3.35,23.4),(1.3,23.5),(1.15,23),(2.1,22.4),(4.3,20.7),(2.9,20.5),(1.4,20.1),(4.25,19.6),(1.2,19.2),(2.1,19),(7,19),(1.75,18.7),(1.55,18),(5.35,18.8),(3.4,17.7),(3.7,17.5),(1.2,17.5),(4.1,17.5),(1.9,17),(3.7,16.5),(6.1,16.8),(1.3,16),(3.3,15),(2.4,15),(5.5,15),(5.45,14.5),(1.1,14.5),(5.5,13.9),(6.4,13.7),(2.2,13.5),(3.8,13.1),(5.9,12.8),(1.9,12.5),(1.3,12),(6.2,12.4),(6,11.7),(2.35,11.4),(4.9,11.2),(5.7,10.5),(2.85,10.8),(3.7,11),(6.3,10.2),(2.3,10),(3.9,10),(1.15,10),(5.6,9.7),(5.35,9.3),(5.1,9),(4.9,8.6),(1.45,8.8),(2.1,8),(5.5,8.2),(3.5,8.5),(4.8,7.8),(2.15,7.6),(5.3,7.3),(4.4,7),(1.15,7),(2.8,6.3),(3.9,6.2),(4.3,5.7),(5.1,6.6),(4.7,5.8),(1.9,5.2),(4.4,5),(1.3,4.8),(4.7,5),(1.8,4.2),(3.9,3.5),(4.2,3.9),(2.9,3.2),(1.75,3),(1.4,2.5),(2.3,2),(1.7,1.8)]
f_blue = [(0.8,56.6),(-0.6,24.7),(0.9,25.1),(1,24.3),(0.85,23.9),(1.1,23.3),(-0.55,18.8),(0.95,20.1),(0.7,20),(0.55,18.2),(0.95,17.2),(0.8,16.5),(1,15.5),(0.85,15.2),(-0.75,14.5),(0.75,13.6),(-0.85,13),(-0.5,12.9),(-0.7,12.3),(0.75,11.5),(0.9,11),(-0.7,10),(-0.5,9.8),(1,10.3),(0.6,9.6),(0.85,9),(-0.95,8.8),(-0.45,8.4),(-0.75,7.9),(0.55,8.3),(0.8,7.8),(1,7.3),(-0.55,7),(0.65,6.9),(0.9,6.2),(-0.85,6.1),(-0.6,5.7),(0.4,5.9),(0.75,5.6),(1,5.1),(-0.4,4.9),(0.6,4.7),(-0.85,4.5),(-0.6,3.9),(0.45,3.9),(0.85,4.1),(-0.75,3.3),(-0.35,3.4),(0.3,3.3),(0.7,3),(1,2.9),(-0.7,2.5),(-0.45,2.3),(0.45,2.4),(0.85,2.3),(-0.8,1.7),(1.05,1.6),(-0.6,1.2),(0.9,1.1),(1.7,1.3)]

# dense parts of the clouds, given as y levels with a left and right edge
a_left_y = [0, 1, 2, 4, 6, 8, 9.5]
a_left_x1 = [-0.1, -0.55, -0.72, -0.92, -0.98, -0.95, -0.85]
a_left_x2 = [0.05, 0, -0.1, -0.3, -0.42, -0.55, -0.6]
a_right_y = [0, 1, 2, 4, 6, 8, 10, 11.5]
a_right_x1 = [0, 0.05, 0.1, 0.2, 0.28, 0.3, 0.33, 0.4]
a_right_x2 = [0.12, 0.55, 0.82, 0.93, 0.95, 0.92, 0.85, 0.75]

b_left_y = [0, 1, 2, 3, 6, 9, 12.5]
b_left_x1 = [-0.5, -1, -1.05, -1.05, -1.05, -1.05, -1]
b_left_x2 = [0.1, 0, -0.05, -0.08, -0.1, -0.2, -0.35]
b_right_y = [0, 1, 2, 3, 6, 9, 12.5]
b_right_x1 = [-0.1, 0, 0.05, 0.1, 0.12, 0.2, 0.3]
b_right_x2 = [0.5, 0.9, 1.02, 1.02, 1.02, 1, 1]

c_base_y = [0, 0.5, 1, 1.6, 2]
c_base_x1 = [-0.15, -0.6, -1.2, -1.7, -2]
c_base_x2 = [0.15, 0.7, 1.5, 2.4, 3]
c_left_y = [2, 5, 8, 11, 14, 16]
c_left_x1 = [-1, -1, -1, -1, -1, -1]
c_left_x2 = [-0.22, -0.42, -0.6, -0.78, -0.92, -0.98]
c_right_y = [2, 5, 8, 12, 16, 20, 22]
c_right_x1 = [0.15, 0.28, 0.38, 0.5, 0.65, 0.82, 0.95]
c_right_x2 = [1, 1, 1, 1, 1, 1, 1]
c_down_y = [2, 4, 6, 8, 10, 12, 14]
c_down_x1 = [-1.9, -2.05, -2, -1.85, -1.5, -1.15, -1.02]
c_down_x2 = [-1, -1, -1, -1, -1, -1, -1]
c_up_y = [2, 5, 8, 11, 14, 17, 20, 21]
c_up_x1 = [1, 1, 1, 1, 1, 1, 1, 1]
c_up_x2 = [2.2, 2.2, 2.1, 1.9, 1.6, 1.3, 1.1, 1.03]

d_base_y = [0, 0.8, 1.6, 2.4]
d_base_x1 = [-0.4, -1, -1.2, -1.1]
d_base_x2 = [0.4, 1, 1.3, 1.2]
d_left_y = [2, 8, 14, 20, 27, 33]
d_left_x1 = [-1, -1, -1, -1, -1, -1]
d_left_x2 = [-0.15, -0.3, -0.45, -0.65, -0.82, -0.95]
d_right_y = [2, 8, 14, 20, 27, 33]
d_right_x1 = [0.15, 0.35, 0.5, 0.68, 0.82, 0.95]
d_right_x2 = [1, 1, 1, 1, 1, 1]
d_down_y = [2, 6, 10, 14, 18, 22]
d_down_x1 = [-1.4, -1.55, -1.6, -1.5, -1.3, -1.1]
d_down_x2 = [-1, -1, -1, -1, -1, -1]
d_up_y = [2, 6, 10, 14, 18, 22]
d_up_x1 = [1, 1, 1, 1, 1, 1]
d_up_x2 = [1.8, 1.9, 1.8, 1.6, 1.4, 1.15]

e_base_y = [0, 0.8, 1.6, 2.4, 3]
e_base_x1 = [-0.25, -0.6, -0.8, -0.75, -0.65]
e_base_x2 = [0.3, 0.6, 0.85, 0.95, 0.95]
e_right_y = [2.4, 5, 8, 11, 14]
e_right_x1 = [0.45, 0.6, 0.72, 0.82, 0.9]
e_right_x2 = [0.95, 1, 1, 1, 1]
e_left_y = [2.4, 3.5, 5, 6]
e_left_x1 = [-0.95, -1, -1, -0.95]
e_left_x2 = [-0.55, -0.6, -0.7, -0.8]
e_up_y = [2, 6, 10, 14, 18, 21]
e_up_x1 = [1, 1, 1, 1, 1.05, 1.1]
e_up_x2 = [1.3, 1.35, 1.3, 1.3, 1.4, 1.35]

f_base_y = [0, 0.7, 1.4, 2.2, 3]
f_base_x1 = [-0.25, -0.48, -0.6, -0.62, -0.6]
f_base_x2 = [0.25, 0.6, 0.8, 0.85, 0.8]

# tick values per panel
a_xticks, a_yticks = [-5.0, -2.5, 0.0, 2.5, 5.0], [0, 10, 20, 30]
b_xticks, b_yticks = [-5, 0, 5], [0, 10, 20, 30]
c_xticks, c_yticks = [-5, 0, 5], [0, 10, 20, 30, 40, 50]
d_xticks, d_yticks = [-10, -5, 0, 5, 10], [0, 25, 50, 75, 100, 125]
e_xticks, e_yticks = [-10, 0, 10], [0, 20, 40, 60]
f_xticks, f_yticks = [-10, -5, 0, 5, 10], [0, 20, 40, 60]

# Venn counts
venn_names = ["GSE64041", "GSE77509", "TCGA", "GSE76427"]
g_counts = [1238, 437, 8, 636, 1, 10, 46, 22, 15, 10, 14, 1, 0, 0, 0]
h_counts = [961, 188, 19, 322, 21, 60, 55, 113, 110, 5, 102, 41, 12, 4, 6]

GREEN, RED, BLUE = "#00FF00", "#FF0000", "#0000FF"
PALETTE = {"down": GREEN, "up": RED, "ns": BLUE}

sns.set_style("white")
plt.rcParams["font.family"] = ["Liberation Sans", "DejaVu Sans"]

fig = plt.figure(figsize=(W / 100, H / 100), dpi=100)


def put_text(x, y, s, **kw):
    fig.text(x / W, 1 - y / H, s, ha="center", va=kw.pop("va", "center"), **kw)


def volcano(box, xlim, ylim, xticks, yticks, green, red, blue, bands):
    left, right, top, bottom = box
    ax = fig.add_axes([left / W, 1 - bottom / H, (right - left) / W, (bottom - top) / H])
    for y, x1, x2, col in bands:
        ax.fill_betweenx(y, x1, x2, color=col, lw=0, zorder=1)
    rows = [(x, y, "down") for x, y in green] + [(x, y, "up") for x, y in red] + [(x, y, "ns") for x, y in blue]
    df = pd.DataFrame(rows, columns=["log2FC", "padj", "group"])
    sns.scatterplot(data=df, x="log2FC", y="padj", hue="group", palette=PALETTE, s=2.8,
                    linewidth=0, legend=False, ax=ax, zorder=2)
    ax.set_xlim(xlim)
    ax.set_ylim(ylim)
    ax.set_xticks(xticks)
    ax.set_yticks(yticks)
    ax.set_xlabel("")
    ax.set_ylabel("")
    ax.tick_params(labelsize=2.8, labelcolor="#777777", length=0.8, width=0.3, color="#999999", pad=1.5)
    ax.axvline(-1, color="#8a8a9a", lw=0.6, ls=(0, (2, 1.5)), zorder=3)
    ax.axvline(1, color="#8a8a9a", lw=0.6, ls=(0, (2, 1.5)), zorder=3)
    ax.axhline(2, color="#8a8a9a", lw=0.6, ls=(0, (2, 1.5)), zorder=3)
    sns.despine(ax=ax)
    for side in ["left", "bottom"]:
        ax.spines[side].set_color("#808080")
        ax.spines[side].set_linewidth(0.8)
    return ax


volcano((23.3, 225.7, 50, 277.7), (-5.53, 5.52), (-1.5, 31.4), a_xticks, a_yticks, a_green + a_green_more, a_red,
        a_blue + a_blue_more,
        [(a_left_y, a_left_x1, a_left_x2, BLUE), (a_right_y, a_right_x1, a_right_x2, BLUE)])
volcano((268.3, 470, 49.3, 276.7), (-8.84, 8.74), (-1.69, 36.7), b_xticks, b_yticks, b_green + b_green_more, b_red,
        b_blue,
        [(b_left_y, b_left_x1, b_left_x2, BLUE), (b_right_y, b_right_x1, b_right_x2, BLUE)])
volcano((501, 705.3, 49.3, 276), (-8.82, 8.84), (-2.34, 52.4), c_xticks, c_yticks, c_green + c_green_more,
        c_red + c_red_more, c_blue,
        [(c_base_y, c_base_x1, c_base_x2, BLUE), (c_left_y, c_left_x1, c_left_x2, BLUE),
         (c_right_y, c_right_x1, c_right_x2, BLUE), (c_down_y, c_down_x1, c_down_x2, GREEN),
         (c_up_y, c_up_x1, c_up_x2, RED)])
volcano((24.3, 228.7, 391, 612.3), (-13.25, 13.2), (-5.95, 125.8), d_xticks, d_yticks, d_green + d_green_more,
        d_red + d_red_more, d_blue,
        [(d_base_y, d_base_x1, d_base_x2, BLUE), (d_left_y, d_left_x1, d_left_x2, BLUE),
         (d_right_y, d_right_x1, d_right_x2, BLUE), (d_down_y, d_down_x1, d_down_x2, GREEN),
         (d_up_y, d_up_x1, d_up_x2, RED)])
volcano((275.7, 475, 391, 613.3), (-16.5, 15.9), (-3.45, 73.2), e_xticks, e_yticks, e_green, e_red, e_blue,
        [(e_base_y, e_base_x1, e_base_x2, BLUE), (e_right_y, e_right_x1, e_right_x2, BLUE),
         (e_left_y, e_left_x1, e_left_x2, BLUE), (e_up_y, e_up_x1, e_up_x2, RED)])
volcano((501.3, 704, 391, 614.3), (-13.15, 13.24), (-3.03, 62.7), f_xticks, f_yticks, f_green, f_red, f_blue,
        [(f_base_y, f_base_x1, f_base_x2, BLUE)])

# titles, axis names and panel letters
TITLE, SUB, LABEL, LETTER = 10.6, 8.6, 8.7, 15.5
for x, name in [(122, "GSE64041"), (376, "GSE76427"), (598, "GSE77509")]:
    put_text(x, 13.5, name, fontsize=TITLE, color="#111111")
for x in [122, 375, 594]:
    put_text(x, 29.5, "normal vs tumor", fontsize=SUB, color="#222222")
for x, sub, x2, x3 in [(134, "mRNA", 135, 130.7), (384.7, "lncRNA", 384, 377), (607, "miRNA", 610, 604.7)]:
    put_text(x, 348, "TCGA", fontsize=TITLE, color="#111111")
    put_text(x2, 362, sub, fontsize=SUB, color="#222222")
    put_text(x3, 377, "normal vs tumor", fontsize=SUB, color="#222222")
for x, y in [(122, 295), (367, 295), (600, 295), (122, 633), (367.7, 633), (600, 632)]:
    put_text(x, y, "log2FC", fontsize=LABEL, color="#222222")
for x, y in [(8, 188), (248, 188), (484, 188), (8, 521.7), (257.7, 521.7), (478.7, 521.7)]:
    put_text(x, y, "-log10(P.adj)", fontsize=LABEL, color="#222222", rotation=90)
for x, y, s in [(12.7, 18, "a"), (257, 19, "b"), (492.7, 18.5, "c"), (14.7, 350, "d"), (257.7, 349.5, "e"),
                (491, 350, "f"), (14.7, 689, "g"), (393.7, 689, "h")]:
    put_text(x, y, s, fontsize=LETTER, fontweight="bold", color="black", va="baseline")

# ---------------------------------------------------------------------
# Venn diagrams on a pixel overlay
# ---------------------------------------------------------------------
venn_ax = fig.add_axes([0, 0, 1, 1], zorder=-1)
venn_ax.set_xlim(0, W)
venn_ax.set_ylim(H, 0)
venn_ax.axis("off")

# drawing order gives the mixed colours of the overlaps
VENN_SHAPES = [
    ((671, 538), 350, 198, -45, "#FFFF00"),
    ((371, 538), 350, 198, 45, "#FFC0CB"),
    ((520, 440), 327, 153, -45, "#00FF00"),
    ((521, 440), 345, 155, 45, "#87CEEB"),
]
NAME_SPOTS = [(145, 218, "#FFC0CB"), (371, 131, "#A8DCE8"), (670, 131, "#55F055"), (896, 218, "#FFFF55")]
COUNT_SPOTS = [(372, 241), (670, 241), (331, 341), (521, 321), (709, 341), (203, 431), (421, 431), (620, 431),
               (840, 431), (342, 590), (521, 541), (700, 590), (446, 630), (596, 630), (521, 730)]


def venn(shift, counts):
    for (cx, cy), a, b, angle, col in VENN_SHAPES:
        center = (cx / 3 + shift, cy / 3 + 650)
        venn_ax.add_patch(Ellipse(center, 2 * a / 3, 2 * b / 3, angle=angle, facecolor=col, alpha=0.6, lw=0))
    for (cx, cy), a, b, angle, col in VENN_SHAPES:
        center = (cx / 3 + shift, cy / 3 + 650)
        venn_ax.add_patch(Ellipse(center, 2 * a / 3, 2 * b / 3, angle=angle, fill=False, edgecolor="black", lw=0.9))
    for (x, y, col), name in zip(NAME_SPOTS, venn_names):
        venn_ax.text(x / 3 + shift, y / 3 + 650, name, color=col, fontsize=6.6, family="Liberation Serif",
                     ha="center", va="center")
    for (x, y), n in zip(COUNT_SPOTS, counts):
        venn_ax.text(x / 3 + shift, y / 3 + 650, str(n), color="#222222", fontsize=6, family="Liberation Serif",
                     ha="center", va="center")


venn(0, g_counts)
venn(374.5, h_counts)

plt.savefig("out.png", dpi=100)
plt.close()
